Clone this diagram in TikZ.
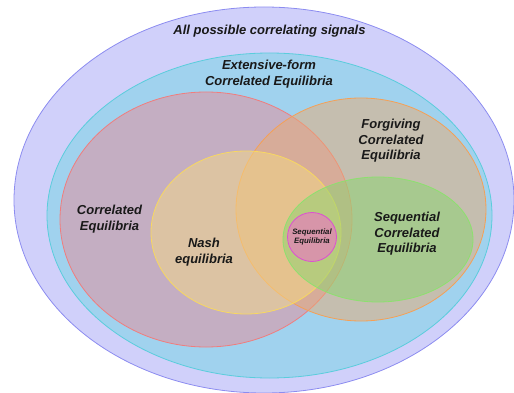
\documentclass[tikz,border=0pt]{standalone}
\usepackage{fontspec}
\setmainfont{Liberation Sans}
\usepackage{xcolor}
\usepackage{tikz}
\usetikzlibrary{shapes.geometric}
\definecolor{sigfill}{RGB}{208,208,250}
\definecolor{sigline}{RGB}{140,140,240}
\definecolor{efcefill}{RGB}{160,210,238}
\definecolor{efceline}{RGB}{90,205,220}
\definecolor{cefill}{RGB}{232,140,152}
\definecolor{celine}{RGB}{240,125,125}
\definecolor{fcefill}{RGB}{234,172,114}
\definecolor{fceline}{RGB}{245,160,85}
\definecolor{nashfill}{RGB}{244,217,133}
\definecolor{nashline}{RGB}{248,216,96}
\definecolor{scefill}{RGB}{139,213,112}
\definecolor{sceline}{RGB}{140,225,110}
\definecolor{seqfill}{RGB}{230,127,188}
\definecolor{seqline}{RGB}{220,80,210}

\begin{document}
\begin{tikzpicture}[x=1pt, y=-1pt,
  set/.style={draw, ellipse, inner sep=0, outer sep=0, line width=0.8pt},
  lbl/.style={font=\bfseries\itshape\fontsize{13}{15.5}\selectfont, align=center, text=black!90}]
\useasboundingbox (0,0) rectangle (514,393);
% the sets
\node[set, draw=sigline, fill=sigfill, minimum width=500pt, minimum height=386pt] (sig) at (264,200) {};
\node[set, draw=efceline, fill=efcefill, minimum width=445pt, minimum height=325pt] (efce) at (269.5,215.5) {};
\node[set, draw=celine, fill=cefill, fill opacity=0.5, minimum width=292pt, minimum height=255pt] (ce) at (206,219.5) {};
\node[set, draw=fceline, fill=fcefill, fill opacity=0.5, minimum width=250pt, minimum height=223pt] (fce) at (361,209.5) {};
\node[set, draw=nashline, fill=nashfill, fill opacity=0.5, minimum width=190pt, minimum height=163pt] (nash) at (246,232.5) {};
\node[set, draw=sceline, fill=scefill, fill opacity=0.5, minimum width=190pt, minimum height=125pt] (sce) at (378,239.5) {};
\node[set, circle, draw=seqline, fill=seqfill, fill opacity=0.7, minimum size=49pt] (seq) at (312,237) {};
% the labels
\node[lbl] (sig_lbl) at (269.5,31) {All possible correlating signals};
\node[lbl] (efce_lbl) at (269,74) {Extensive-form\\Correlated Equilibria};
\node[lbl] (ce_lbl) at (109.5,219) {Correlated\\Equilibria};
\node[lbl] (nash_lbl) at (204,252) {Nash\\equilibria};
\node[lbl] (fce_lbl) at (391,141) {Forgiving\\Correlated\\Equilibria};
\node[lbl] (sce_lbl) at (407,234) {Sequential\\Correlated\\Equilibria};
\node[lbl, font=\bfseries\itshape\fontsize{7.8}{9.5}\selectfont] (seq_lbl) at (312,237) {Sequential\\Equilibria};
\end{tikzpicture}
\end{document}
